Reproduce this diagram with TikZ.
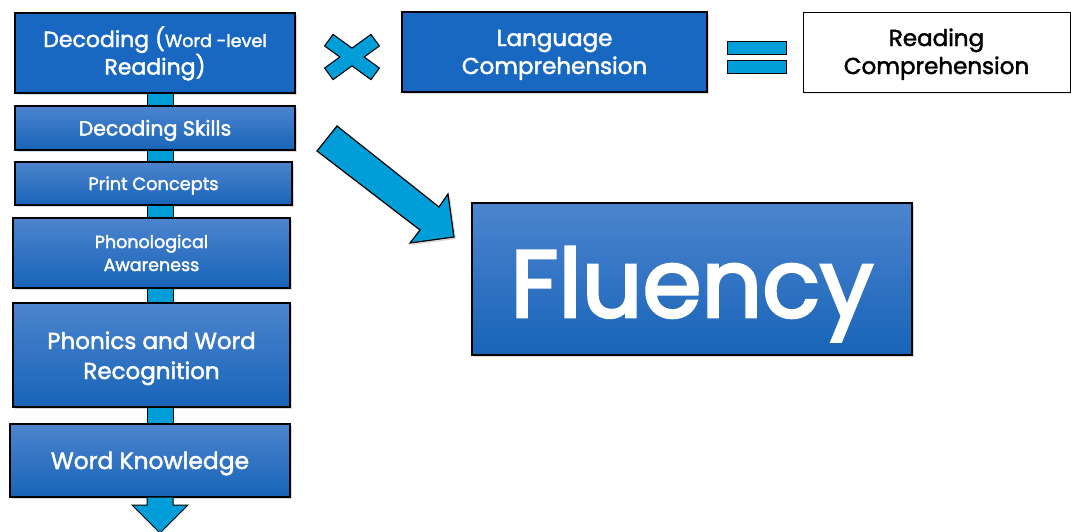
\documentclass[tikz,border=0pt]{standalone}
\usepackage{fontspec}
\setmainfont{Poppins}[FakeBold=2]
\newfontfamily\heavyfont{Poppins}[FakeBold=3]
\usetikzlibrary{shadows}
\definecolor{boxblue}{RGB}{24,104,194}
\definecolor{boxtop}{RGB}{76,132,206}
\definecolor{boxbot}{RGB}{24,100,184}
\definecolor{linkcyan}{RGB}{0,158,216}
\tikzset{
  solidbox/.style={draw=black, line width=1.2pt, fill=boxblue, text=white, align=center, inner sep=0pt,
    drop shadow={opacity=0.3, shadow xshift=2pt, shadow yshift=-2pt}},
  shadebox/.style={draw=black, line width=1.2pt, top color=boxtop, bottom color=boxbot, text=white, align=center, inner sep=0pt,
    drop shadow={opacity=0.3, shadow xshift=2pt, shadow yshift=-2pt}},
  plainbox/.style={draw=black, line width=1pt, fill=white, text=black, align=center, inner sep=0pt,
    drop shadow={opacity=0.2, shadow xshift=2pt, shadow yshift=-2pt}},
  lines/.style 2 args={text height=#1, text depth=#2},
  link/.style={draw=black, line width=1pt, fill=linkcyan}
}
\begin{document}
\begin{tikzpicture}[x=1pt,y=1pt,yscale=-1,xscale=1]
\useasboundingbox (0,0) rectangle (1071,531);

%Shape: Rectangle [id:decoding]
\node[solidbox, lines={43pt}{0pt}, minimum width=280pt, minimum height=80pt, font=\fontsize{22}{26}\selectfont] (decoding) at (155,53) {Decoding ({\fontsize{17.6}{26}\selectfont Word -level}\\Reading)};
%Shape: Rectangle [id:skills]
\node[shadebox, lines={15pt}{0pt}, minimum width=280pt, minimum height=44pt, font=\fontsize{20.5}{24}\selectfont] (skills) at (155,128) {Decoding Skills};
%Shape: Rectangle [id:print]
\node[shadebox, lines={13pt}{0pt}, minimum width=277pt, minimum height=43pt, font=\fontsize{17.8}{22}\selectfont] (print) at (153.5,183.5) {Print Concepts};
%Shape: Rectangle [id:phono]
\node[shadebox, lines={36pt}{0pt}, minimum width=277pt, minimum height=70pt, font=\fontsize{17.5}{23}\selectfont] (phono) at (151.5,253) {Phonological\\Awareness};
%Shape: Rectangle [id:phonics]
\node[shadebox, lines={48pt}{0pt}, minimum width=277pt, minimum height=104pt, font=\fontsize{23}{30}\selectfont] (phonics) at (151.5,355) {Phonics and Word\\Recognition};
%Shape: Rectangle [id:knowledge]
\node[shadebox, lines={17pt}{0pt}, minimum width=280pt, minimum height=73pt, font=\fontsize{23.4}{28}\selectfont] (knowledge) at (150,460.5) {Word Knowledge};

%Shape: Rectangle [id:language]
\node[solidbox, lines={44pt}{0pt}, minimum width=305pt, minimum height=80pt, font=\fontsize{23}{28}\selectfont] (language) at (554.5,52) {Language\\Comprehension};
%Shape: Rectangle [id:reading]
\node[plainbox, lines={44pt}{0pt}, minimum width=267pt, minimum height=80pt, font=\fontsize{23}{28}\selectfont] (reading) at (936.5,52) {Reading\\Comprehension};
%Shape: Rectangle [id:fluency]
\node[shadebox, lines={76pt}{0pt}, minimum width=440pt, minimum height=152pt, font=\heavyfont\fontsize{95}{110}\selectfont] (fluency) at (692,279) {Fluency};

%Shape: Links between the boxes
\coordinate (axis) at (160,0);
\foreach \a/\b in {decoding/skills, skills/print, print/phono, phono/phonics, phonics/knowledge}
  \draw[link] ([xshift=-13pt]axis |- \a.south) rectangle ([xshift=13pt]axis |- \b.north);

%Shape: Down Arrow [id:downarrow]
\coordinate (down) at (160,533);
\draw[link] ([xshift=-13pt]axis |- knowledge.south) -- (147,505) -- (132,505) -- (down) -- (188,505) -- (173,505) -- ([xshift=13pt]axis |- knowledge.south) ;

%Shape: Multiply [id:times]
\draw[draw=black, line width=2.4pt, rotate around={36:(352,57)}] (324,50.5) rectangle (380,63.5);
\draw[draw=black, line width=2.4pt, rotate around={-36:(352,57)}] (324,50.5) rectangle (380,63.5);
\fill[linkcyan, rotate around={36:(352,57)}] (324,50.5) rectangle (380,63.5);
\fill[linkcyan, rotate around={-36:(352,57)}] (324,50.5) rectangle (380,63.5);

%Shape: Equal [id:equals]
\draw[link] (727,41) rectangle (786,54);
\draw[link] (727,60) rectangle (786,73);

%Shape: Right Arrow [id:bigarrow]
\draw[link, line width=1.2pt, drop shadow={opacity=0.3, shadow xshift=2pt, shadow yshift=-2pt}] (317,151) -- (337,126) -- (439,207) -- (448,194) -- (454,237) -- (410,243) -- (420,230) -- cycle ;
\end{tikzpicture}
\end{document}
